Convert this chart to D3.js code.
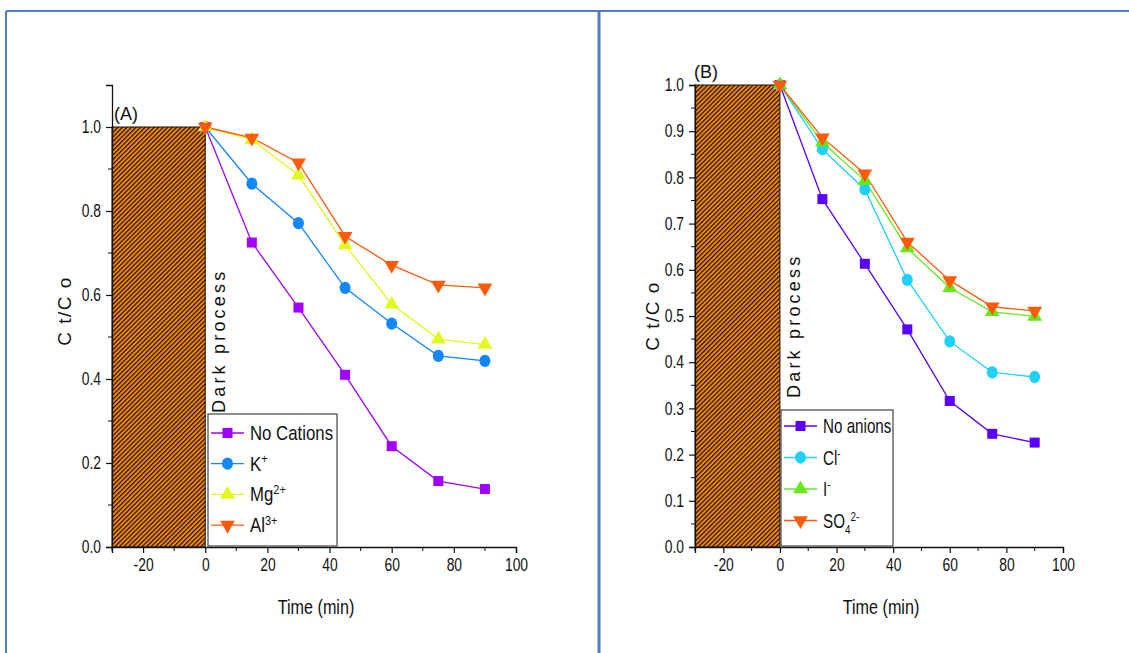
<!DOCTYPE html>
<html>
<head>
<meta charset="utf-8">
<script src="https://cdn.jsdelivr.net/npm/d3@7"></script>
<style>
  html, body { margin: 0; padding: 0; background: #fff; }
  svg { display: block; }
  text { font-family: "Liberation Sans", Arial, sans-serif; fill: #111; }
</style>
</head>
<body>
<svg id="chart" width="1129" height="653"></svg>
<script>
// Sampling times (min)
const times = [0, 15, 30, 45, 60, 75, 90];

// Panel A: effect of cations
const noCations = [1.0, 0.725, 0.570, 0.410, 0.240, 0.157, 0.138];
const kPlus     = [1.0, 0.865, 0.771, 0.617, 0.532, 0.455, 0.443];
const mg2Plus   = [1.0, 0.970, 0.885, 0.719, 0.578, 0.495, 0.482];
const al3Plus   = [1.0, 0.974, 0.915, 0.740, 0.671, 0.624, 0.617];

// Panel B: effect of anions
const noAnions  = [1.0, 0.753, 0.613, 0.471, 0.316, 0.245, 0.226];
const clMinus   = [1.0, 0.861, 0.774, 0.578, 0.445, 0.378, 0.368];
const iMinus    = [1.0, 0.876, 0.793, 0.647, 0.561, 0.509, 0.499];
const so4       = [1.0, 0.886, 0.808, 0.660, 0.577, 0.520, 0.511];

// Axis ticks
const xTicks = [-20, 0, 20, 40, 60, 80, 100];
const yTicksA = [0.0, 0.2, 0.4, 0.6, 0.8, 1.0];
const yTicksB = [0.0, 0.1, 0.2, 0.3, 0.4, 0.5, 0.6, 0.7, 0.8, 0.9, 1.0];

// Dark (adsorption) period
const darkStart = -30, darkEnd = 0, darkLevel = 1.0;

// Condensed look for the sans text
const SQUEEZE = 0.77;

const svg = d3.select("#chart");

// Hatch fill for the dark-process block
const defs = svg.append("defs");
const pat = defs.append("pattern")
  .attr("id", "hatch")
  .attr("patternUnits", "userSpaceOnUse")
  .attr("width", 3.2).attr("height", 3.2)
  .attr("patternTransform", "rotate(45)");
pat.append("rect").attr("width", 3.2).attr("height", 3.2).attr("fill", "#F7860F");
pat.append("line").attr("x1", 0.6).attr("y1", 0).attr("x2", 0.6).attr("y2", 3.2)
  .attr("stroke", "#1a1208").attr("stroke-width", 1.2);

// Page frame
const frameColor = "#4F7EC4";
svg.append("line").attr("x1", 6).attr("y1", 11).attr("x2", 1129).attr("y2", 11)
  .attr("stroke", frameColor).attr("stroke-width", 2);
svg.append("line").attr("x1", 6).attr("y1", 11).attr("x2", 6).attr("y2", 653)
  .attr("stroke", frameColor).attr("stroke-width", 2);
svg.append("line").attr("x1", 599).attr("y1", 11).attr("x2", 599).attr("y2", 653)
  .attr("stroke", frameColor).attr("stroke-width", 3);

const symbols = {
  square: d3.symbol().type(d3.symbolSquare).size(100),
  circle: d3.symbol().type(d3.symbolCircle).size(95),
  up: d3.symbol().type(d3.symbolTriangle).size(95),
  down: d3.symbol().type(d3.symbolTriangle).size(95)
};
const markTransform = (shape) =>
  (shape === "down" ? " rotate(180)" : "") + (shape === "circle" ? " scale(1,1.12)" : "");

function drawPanel(cfg) {
  const g = svg.append("g");
  const x = d3.scaleLinear().domain([-30, 100]).range([cfg.x0, cfg.x1]);
  const y = d3.scaleLinear().domain([0, cfg.yMax]).range([cfg.y0, cfg.y1]);

  // Dark process block
  g.append("rect")
    .attr("x", x(darkStart)).attr("y", y(darkLevel))
    .attr("width", x(darkEnd) - x(darkStart))
    .attr("height", y(0) - y(darkLevel))
    .attr("fill", "url(#hatch)")
    .attr("stroke", "#111").attr("stroke-width", 1);

  // Axes
  const xAxis = d3.axisBottom(x).tickValues(xTicks).tickSize(6).tickPadding(5)
    .tickFormat(d => String(d));
  const xa = g.append("g").attr("transform", `translate(0,${cfg.y0})`).call(xAxis);
  const xMinor = d3.range(-30, 101, 10).filter(v => !xTicks.includes(v));
  xa.selectAll(".minor").data(xMinor).enter().append("line")
    .attr("x1", d => x(d)).attr("x2", d => x(d)).attr("y1", 0).attr("y2", 4)
    .attr("stroke", "#111");

  const yAxis = d3.axisLeft(y).tickValues(cfg.yTicks).tickSize(6).tickPadding(5)
    .tickFormat(d3.format(".1f"));
  const ya = g.append("g").attr("transform", `translate(${cfg.x0},0)`).call(yAxis);
  ya.selectAll(".minor").data(cfg.yMinor).enter().append("line")
    .attr("x1", 0).attr("x2", -4).attr("y1", d => y(d)).attr("y2", d => y(d))
    .attr("stroke", "#111");

  [xa, ya].forEach(a => {
    a.attr("font-family", null).attr("font-size", null);
    a.select(".domain").attr("stroke", "#111").attr("stroke-width", 1.3);
    a.selectAll(".tick line").attr("stroke", "#111").attr("stroke-width", 1.2);
    a.selectAll(".tick text").attr("font-size", 18).attr("fill", "#111");
  });
  // squeeze tick labels horizontally, keeping their anchor point
  xa.selectAll(".tick text").attr("transform", `scale(${SQUEEZE},1)`);
  ya.selectAll(".tick text").each(function () {
    const t = d3.select(this);
    const tx = +t.attr("x");
    t.attr("x", 0).attr("transform", `translate(${tx},0) scale(${SQUEEZE},1)`);
  });

  // Axis titles
  g.append("text")
    .attr("transform", `translate(${(cfg.x0 + cfg.x1) / 2 + 2},${cfg.y0 + 67}) scale(${SQUEEZE},1)`)
    .attr("text-anchor", "middle").attr("font-size", 21)
    .text("Time (min)");
  g.append("text")
    .attr("transform", `translate(${cfg.yLabelX},${cfg.yLabelY}) rotate(-90)`)
    .attr("text-anchor", "middle").attr("font-size", 19)
    .attr("letter-spacing", 1.5)
    .text("C t/C o");

  // Dark process label
  g.append("text")
    .attr("transform", `translate(${x(darkEnd) + 20},${cfg.darkTextY}) rotate(-90)`)
    .attr("text-anchor", "start").attr("font-size", 18)
    .attr("letter-spacing", 3.2)
    .text("Dark process");

  // Panel tag
  g.append("text").attr("x", cfg.tagX).attr("y", cfg.tagY)
    .attr("font-size", 18)
    .text(cfg.tag);

  // Series
  const line = d3.line().x((d, i) => x(times[i])).y(d => y(d));
  cfg.series.forEach(s => {
    g.append("path").datum(s.values)
      .attr("d", line).attr("fill", "none")
      .attr("stroke", s.color).attr("stroke-width", 1.3);
  });
  cfg.series.forEach(s => {
    g.selectAll(null).data(s.values).enter().append("path")
      .attr("d", symbols[s.shape])
      .attr("transform", (d, i) => `translate(${x(times[i])},${y(d)})${markTransform(s.shape)}`)
      .attr("fill", s.color);
  });

  // Legend
  const L = cfg.legend;
  const lg = g.append("g");
  lg.append("rect").attr("x", L.x).attr("y", L.y).attr("width", L.w).attr("height", L.h)
    .attr("fill", "#fff").attr("stroke", "#444").attr("stroke-width", 1.2);
  cfg.series.forEach((s, i) => {
    const cy = L.y + L.first + i * L.step;
    lg.append("line").attr("x1", L.x + 3).attr("x2", L.x + 36).attr("y1", cy).attr("y2", cy)
      .attr("stroke", s.color).attr("stroke-width", 1.3);
    lg.append("path").attr("d", symbols[s.shape])
      .attr("transform", `translate(${L.x + 19.5},${cy})${markTransform(s.shape)}`)
      .attr("fill", s.color);
    const t = lg.append("text")
      .attr("transform", `translate(${L.x + 42},${cy + 7}) scale(${L.squeeze},1)`)
      .attr("font-size", 20);
    s.label.forEach(part => {
      const ts = t.append("tspan").text(part.t);
      if (part.sup) ts.attr("baseline-shift", "super").attr("font-size", 13);
      if (part.sub) ts.attr("baseline-shift", "sub").attr("font-size", 13);
    });
  });
}

drawPanel({
  x0: 112, x1: 516, y0: 547, y1: 85, yMax: 1.1,
  yTicks: yTicksA, yMinor: [0.1, 0.3, 0.5, 0.7, 0.9],
  yLabelX: 71, yLabelY: 311, darkTextY: 413,
  tag: "(A)", tagX: 114, tagY: 120,
  legend: { x: 208, y: 414, w: 129, h: 132, first: 19, step: 30.7, squeeze: 0.84 },
  series: [
    { values: noCations, color: "#A100FF", shape: "square", label: [{ t: "No Cations" }] },
    { values: kPlus, color: "#1287F5", shape: "circle", label: [{ t: "K" }, { t: "+", sup: true }] },
    { values: mg2Plus, color: "#E2F81E", shape: "up", label: [{ t: "Mg" }, { t: "2+", sup: true }] },
    { values: al3Plus, color: "#FF5A0A", shape: "down", label: [{ t: "Al" }, { t: "3+", sup: true }] }
  ]
});

drawPanel({
  x0: 695, x1: 1063, y0: 547, y1: 85, yMax: 1.0,
  yTicks: yTicksB, yMinor: d3.range(0.05, 1.0, 0.1),
  yLabelX: 659, yLabelY: 316, darkTextY: 398,
  tag: "(B)", tagX: 694, tagY: 78,
  legend: { x: 781, y: 410, w: 112, h: 136, first: 16, step: 31.5, squeeze: 0.76 },
  series: [
    { values: noAnions, color: "#5A00FF", shape: "square", label: [{ t: "No anions" }] },
    { values: clMinus, color: "#1FD0FA", shape: "circle", label: [{ t: "Cl" }, { t: "-", sup: true }] },
    { values: iMinus, color: "#66E81A", shape: "up", label: [{ t: "I" }, { t: "-", sup: true }] },
    { values: so4, color: "#FF5A0A", shape: "down", label: [{ t: "SO" }, { t: "4", sub: true }, { t: "2-", sup: true }] }
  ]
});
</script>
</body>
</html>
